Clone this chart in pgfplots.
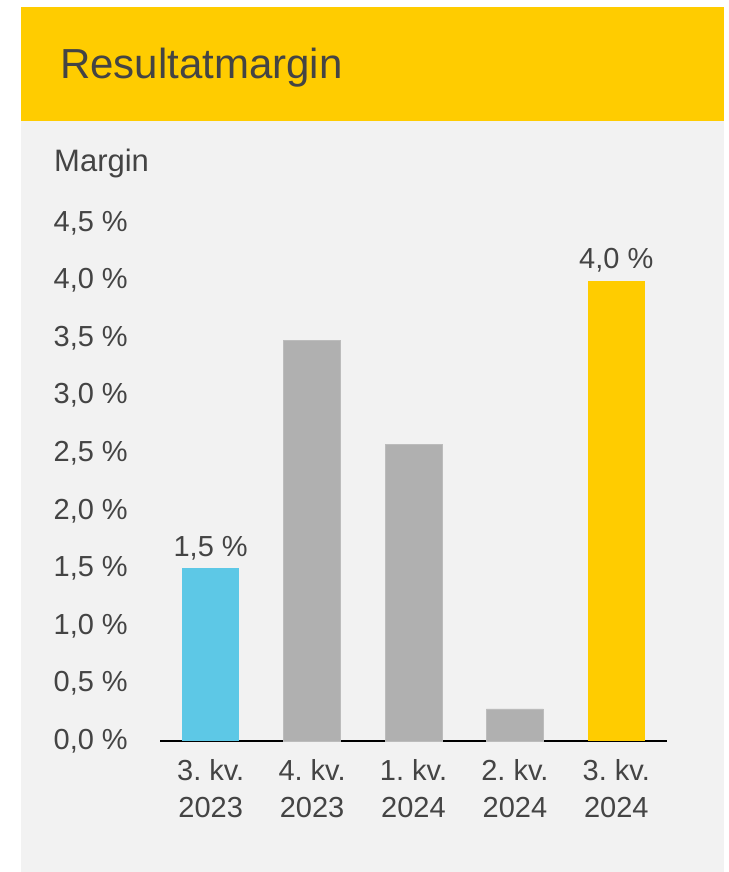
\documentclass[border=0pt]{standalone}
\usepackage{fontspec}
\setmainfont{Liberation Sans}
\usepackage{pgfplots}
\pgfplotsset{compat=1.18}
\definecolor{txt}{HTML}{444444}
\definecolor{bg}{HTML}{F2F2F2}
\definecolor{yel}{HTML}{FFCC00}
\definecolor{blu}{HTML}{5DC8E6}
\definecolor{gry}{HTML}{B0B0B0}
\frenchspacing
\begin{document}
\begin{tikzpicture}[x=1pt,y=1pt]
\useasboundingbox (0,0) rectangle (728,872);
\fill[white] (0,0) rectangle (728,872);
\fill[bg] (21,0) rectangle (724,751);
\fill[yel] (21,751) rectangle (724,865);
\node[anchor=base west, inner sep=0pt, text=txt, font=\fontsize{42}{50}\selectfont] at (60,793) {Resultatmargin};
\node[anchor=base west, inner sep=0pt, text=txt, font=\fontsize{31}{37}\selectfont] at (54,700) {Margin};
\begin{axis}[
  at={(160pt,131pt)}, anchor=south west,
  scale only axis, width=507pt, height=518pt,
  xmin=-0.5, xmax=4.5, ymin=0, ymax=4.5,
  clip=false,
  ybar, bar width=57pt,
  separate axis lines,
  axis x line*=bottom, axis y line*=left,
  x axis line style={-, black, line width=2pt},
  y axis line style={draw=none},
  major tick length=0pt,
  /pgf/number format/assume math mode=true,
  xtick={0,1,2,3,4},
  xticklabels={{3.\ kv.\\2023},{4.\ kv.\\2023},{1.\ kv.\\2024},{2.\ kv.\\2024},{3.\ kv.\\2024}},
  xticklabel style={align=center, font=\fontsize{29}{37}\selectfont\frenchspacing, text=txt, anchor=north, inner sep=0pt, yshift=-18pt},
  ytick={0,0.5,1,1.5,2,2.5,3,3.5,4,4.5},
  yticklabels={{0,0 \%},{0,5 \%},{1,0 \%},{1,5 \%},{2,0 \%},{2,5 \%},{3,0 \%},{3,5 \%},{4,0 \%},{4,5 \%}},
  yticklabel style={font=\fontsize{29}{35}\selectfont, text=txt, anchor=east, inner sep=0pt, xshift=-32pt},
  every node near coord/.append style={font=\fontsize{29}{35}\selectfont, text=txt, anchor=base, inner sep=0pt, yshift=12pt},
]
\addplot[fill=blu, draw=none, bar shift=0pt, nodes near coords={1,5 \%}] coordinates {(0,1.5)};
\addplot[fill=gry, draw=gry!85!white, bar shift=0pt] coordinates {(1,3.48) (2,2.58) (3,0.28)};
\addplot[fill=yel, draw=none, bar shift=0pt, nodes near coords={4,0 \%}] coordinates {(4,4.0)};
\end{axis}
\end{tikzpicture}
\end{document}
